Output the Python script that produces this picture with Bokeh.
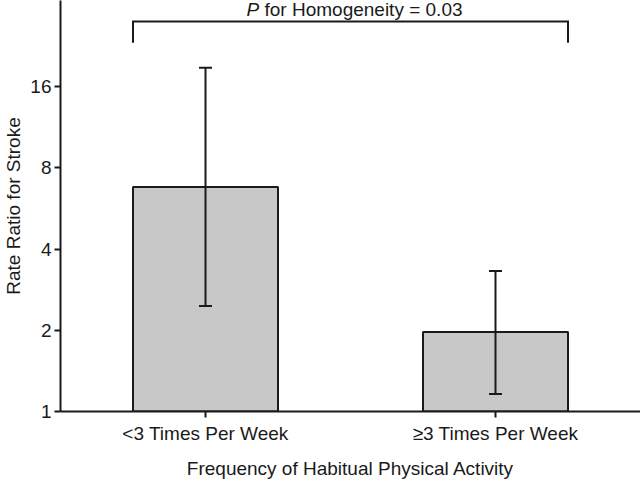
from bokeh.plotting import figure
from bokeh.models import Range1d, FixedTicker, Whisker, ColumnDataSource, TeeHead, Label
from bokeh.embed import file_html
from bokeh.resources import INLINE

# ---- data ----
categories = ["<3 Times Per Week", "\u22653 Times Per Week"]
rate_ratio = [6.8, 1.97]
ci_lower = [2.46, 1.16]
ci_upper = [18.8, 3.32]
y_ticks = [1, 2, 4, 8, 16]
y_tick_labels = ["1", "2", "4", "8", "16"]
p_value_text = "0.03"

# ---- layout / style constants ----
FONT = "Liberation Sans"
FS = "19px"
INK = "#1a1a1a"
LW = 2
BAR_W = 0.5
Y_TOP = 33.4
bracket_top = 27.9
bracket_bottom = 23.3
label_y = 31.0

x_pos = [i + 0.5 for i in range(len(categories))]

p = figure(width=640, height=482, output_backend="svg", toolbar_location=None,
           y_axis_type="log", x_range=Range1d(0, len(categories)), y_range=Range1d(1, Y_TOP),
           min_border_left=60, min_border_right=0, min_border_top=0, min_border_bottom=71,
           background_fill_color="white", border_fill_color="white")
p.outline_line_color = None
p.grid.visible = False

src = ColumnDataSource(dict(x=x_pos, top=rate_ratio, lower=ci_lower, upper=ci_upper))
p.vbar(x="x", top="top", bottom=1, width=BAR_W, source=src,
       fill_color="#c8c8c8", line_color=INK, line_width=LW)

wh = Whisker(base="x", lower="lower", upper="upper", source=src,
             line_color=INK, line_width=LW, level="annotation",
             upper_head=TeeHead(size=13, line_color=INK, line_width=LW),
             lower_head=TeeHead(size=13, line_color=INK, line_width=LW))
p.add_layout(wh)

# bracket spanning both bars
bx0 = x_pos[0] - BAR_W / 2
bx1 = x_pos[-1] + BAR_W / 2
p.line(x=[bx0, bx0, bx1, bx1], y=[bracket_bottom, bracket_top, bracket_top, bracket_bottom],
       line_color=INK, line_width=LW, line_join="miter")

cx = sum(x_pos) / len(x_pos)
p.add_layout(Label(x=cx, y=label_y, text="P", text_font=FONT, text_font_size=FS,
                   text_font_style="italic", text_color=INK, text_align="left",
                   text_baseline="alphabetic", x_offset=-104))
p.add_layout(Label(x=cx, y=label_y, text="for Homogeneity = " + p_value_text, text_font=FONT,
                   text_font_size=FS, text_color=INK, text_align="left",
                   text_baseline="alphabetic", x_offset=-86))

# axes
xa = p.xaxis[0]
xa.ticker = FixedTicker(ticks=x_pos)
xa.major_label_overrides = {x: c for x, c in zip(x_pos, categories)}
xa.axis_label = "Frequency of Habitual Physical Activity"
xa.axis_label_standoff = 11
xa.major_label_standoff = 5

ya = p.yaxis[0]
ya.ticker = FixedTicker(ticks=y_ticks)
ya.major_label_overrides = {t: l for t, l in zip(y_ticks, y_tick_labels)}
ya.axis_label = "Rate Ratio for Stroke"
ya.axis_label_standoff = 3
ya.major_label_standoff = 3

for ax in (xa, ya):
    ax.axis_line_color = INK
    ax.axis_line_width = LW
    ax.major_tick_line_color = INK
    ax.major_tick_line_width = LW
    ax.major_tick_out = 6
    ax.major_tick_in = 0
    ax.minor_tick_line_color = None
    ax.major_label_text_font = FONT
    ax.major_label_text_font_size = FS
    ax.major_label_text_color = INK
    ax.axis_label_text_font = FONT
    ax.axis_label_text_font_size = FS
    ax.axis_label_text_font_style = "normal"
    ax.axis_label_text_color = INK

open("out.html", "w").write(file_html(p, INLINE))
